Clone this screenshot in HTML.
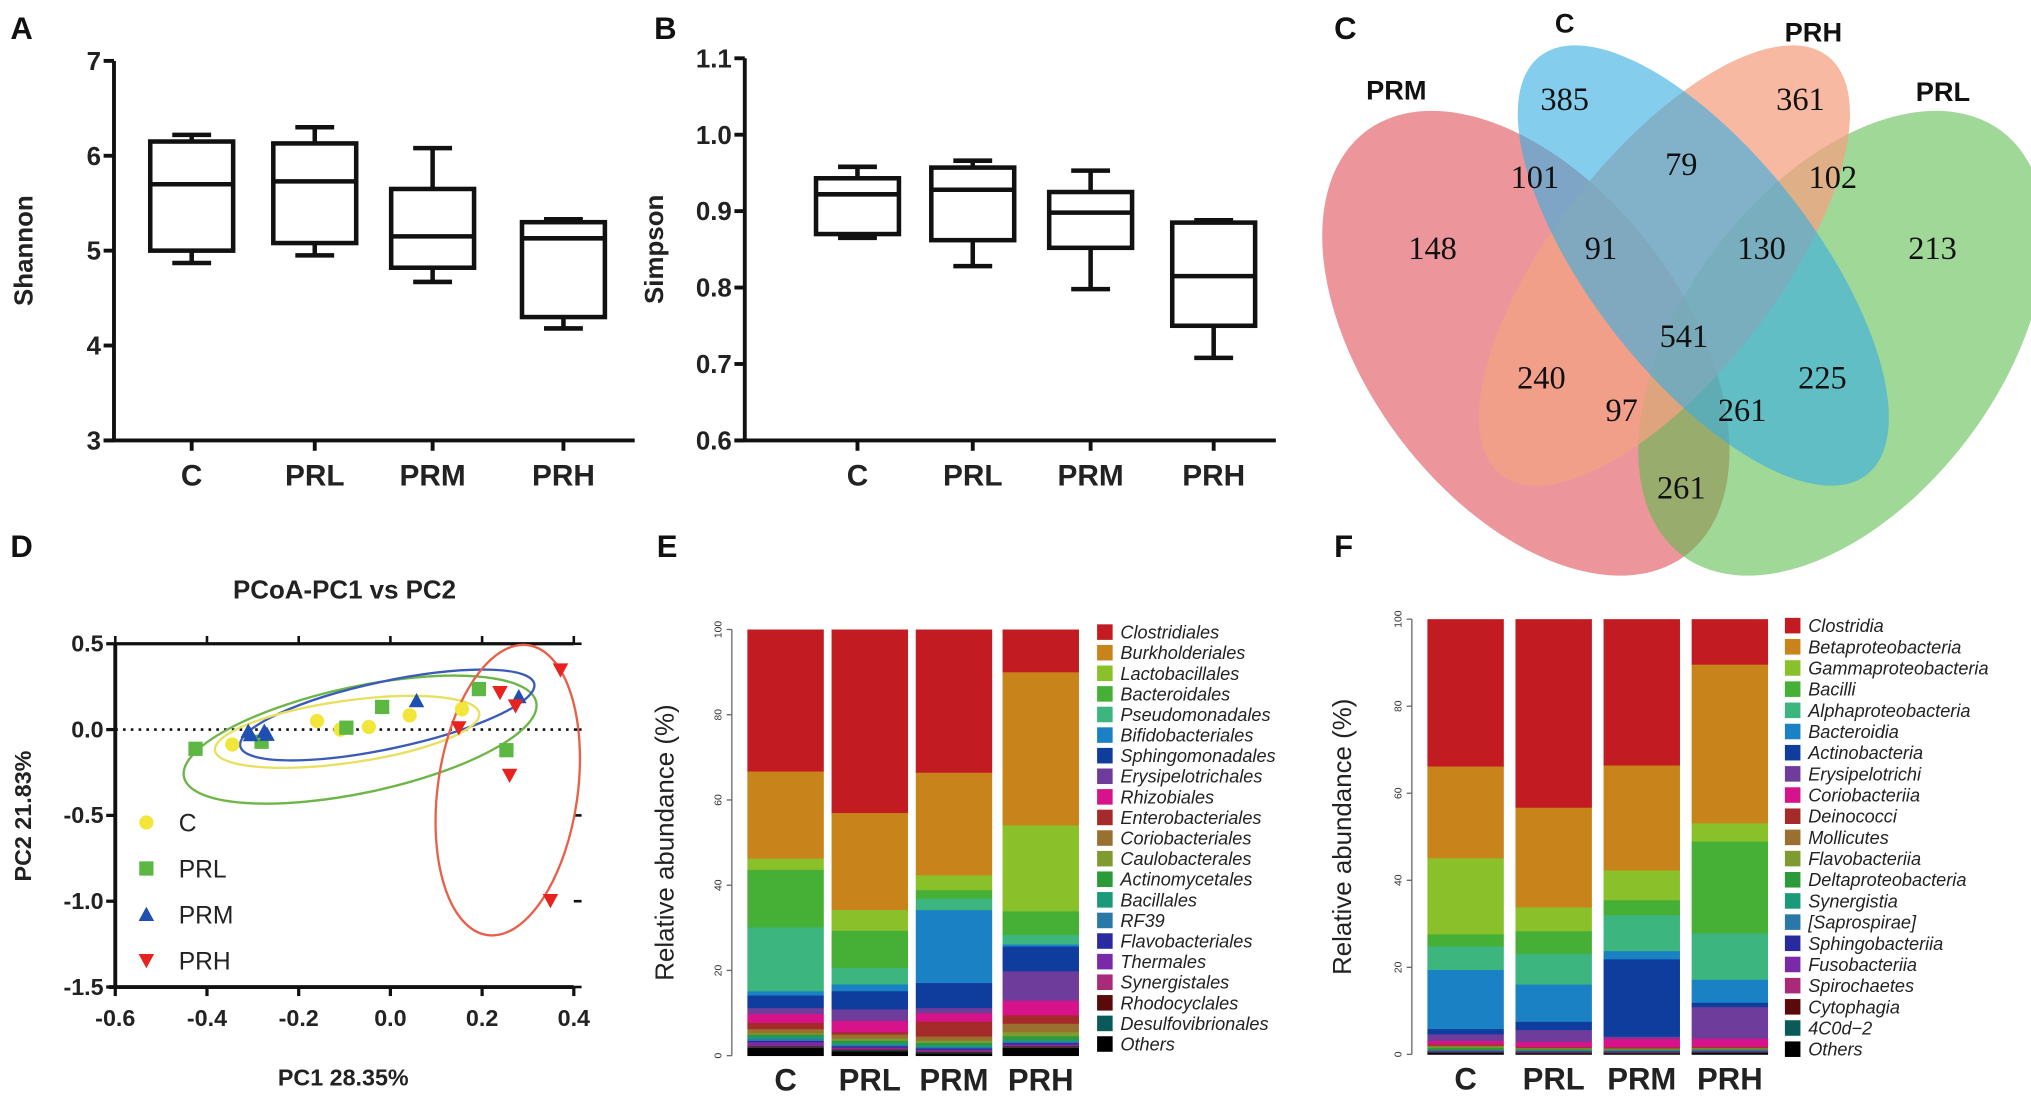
<!DOCTYPE html>
<html><head><meta charset="utf-8"><style>
html,body{margin:0;padding:0;background:#fff;}
svg{display:block;font-family:"Liberation Sans",Arial,sans-serif;}
</style></head><body>
<svg id="fig" width="2031" height="1101" viewBox="0 0 1568 850" preserveAspectRatio="none" xmlns="http://www.w3.org/2000/svg">
<g font-weight="bold" font-size="24" fill="#111">
<text x="8" y="30">A</text>
<text x="505" y="30">B</text>
<text x="1030" y="30">C</text>
<text x="8" y="430">D</text>
<text x="507" y="430">E</text>
<text x="1030" y="430">F</text>
</g>
<g id="pa"></g>
<g id="pb"></g>
<g id="pc"></g>
<g id="pd"></g>
<g id="pe"></g>
<g id="pf"></g>
</svg>
<script>
const groups = ["C","PRL","PRM","PRH"];
// Shannon: [min, q1, median, q3, max]
const shannonStats = [[4.87,5.0,5.7,6.15,6.22],[4.95,5.08,5.73,6.13,6.3],[4.67,4.82,5.15,5.65,6.08],[4.18,4.3,5.13,5.3,5.33]];
const shannonTicks = [3,4,5,6,7];
const simpsonStats = [[0.865,0.87,0.922,0.943,0.958],[0.828,0.862,0.928,0.957,0.966],[0.798,0.852,0.898,0.925,0.953],[0.708,0.75,0.815,0.885,0.888]];
const simpsonTicks = ["0.6","0.7","0.8","0.9","1.0","1.1"];
const vennLabels = ["PRM","C","PRH","PRL"];
const vennCounts = ["385","361","101","79","102","148","91","130","213","541","240","225","97","261","261"];
const pcX_C = [-0.345,-0.16,-0.109,-0.047,0.042,0.156];
const pcY_C = [-0.087,0.05,0.0,0.015,0.083,0.119];
const pcX_PRL = [-0.425,-0.281,-0.096,-0.018,0.193,0.253];
const pcY_PRL = [-0.112,-0.071,0.011,0.132,0.236,-0.12];
const pcX_PRM = [-0.31,-0.305,-0.275,-0.269,0.057,0.28];
const pcY_PRM = [-0.01,-0.03,-0.01,-0.028,0.168,0.191];
const pcX_PRH = [0.149,0.239,0.273,0.26,0.371,0.349];
const pcY_PRH = [0.011,0.216,0.138,-0.266,0.348,-0.996];
const pcXTicks = ["-0.6","-0.4","-0.2","0.0","0.2","0.4"];
const pcYTicks = ["0.5","0.0","-0.5","-1.0","-1.5"];
const orderNames = ["Clostridiales","Burkholderiales","Lactobacillales","Bacteroidales","Pseudomonadales","Bifidobacteriales","Sphingomonadales","Erysipelotrichales","Rhizobiales","Enterobacteriales","Coriobacteriales","Caulobacterales","Actinomycetales","Bacillales","RF39","Flavobacteriales","Thermales","Synergistales","Rhodocyclales","Desulfovibrionales","Others"];
const orderC   = [33.8,20.7,2.7,13.7,15.2,1.0,3.0,1.4,2.1,1.5,1.0,0.3,0.5,0.5,0.5,0.3,0.8,0.2,0.2,0.2,1.8];
const orderPRL = [43.3,22.9,4.9,8.75,3.9,1.6,4.3,2.7,2.7,0.5,1.0,0.5,0.5,0.5,0.3,0.3,0.3,0.2,0.2,0.2,1.0];
const orderPRM = [33.75,24.2,3.5,2.0,2.7,17.2,5.9,1.2,2.0,3.5,1.0,0.5,0.5,0.5,0.3,0.3,0.3,0.2,0.2,0.2,0.5];
const orderPRH = [10.2,36.5,20.5,5.6,2.3,0.5,5.9,7.0,3.5,2.0,2.0,1.0,0.8,0.5,0.3,0.3,0.3,0.2,0.2,0.2,1.8];
const classNames = ["Clostridia","Betaproteobacteria","Gammaproteobacteria","Bacilli","Alphaproteobacteria","Bacteroidia","Actinobacteria","Erysipelotrichi","Coriobacteriia","Deinococci","Mollicutes","Flavobacteriia","Deltaproteobacteria","Synergistia","[Saprospirae]","Sphingobacteriia","Fusobacteriia","Spirochaetes","Cytophagia","4C0d\u22122","Others"];
const classC   = [33.9,21.1,17.5,2.8,5.4,13.6,1.2,1.5,0.8,0.3,0.3,0.2,0.5,0.1,0.1,0.1,0.1,0.1,0.1,0.1,0.3];
const classPRL = [43.5,23.0,5.5,5.2,7.1,8.6,1.9,2.7,1.2,0.2,0.2,0.1,0.3,0.1,0.1,0.1,0.1,0.1,0.1,0.1,0.2];
const classPRM = [33.9,24.3,6.9,3.5,8.3,1.9,17.9,0.5,2.0,0.2,0.2,0.1,0.2,0.1,0.1,0.1,0.1,0.1,0.1,0.1,0.2];
const classPRH = [10.5,36.6,4.2,21.2,10.7,5.3,1.0,7.3,1.9,0.2,0.2,0.1,0.2,0.1,0.1,0.1,0.1,0.1,0.1,0.1,0.3];
const percentTicks = ["0","20","40","60","80","100"];

const palette = ["#c21b22","#c8831a","#8ac12a","#45b035","#3cb57f","#1a82c4","#0f3d9e","#6e3c9a","#d6138a","#a52a2a","#9a7030","#7f9a30","#2a9a3a","#1a9a7a","#2a78a8","#2a2aa0","#7a2aa8","#a82a78","#5a0a0a","#0a5a5a","#000"];
const NS="http://www.w3.org/2000/svg";
function mk(parent, tag, attrs, text){const e=document.createElementNS(NS,tag);for(const k in attrs)e.setAttribute(k,attrs[k]);if(text!==undefined)e.textContent=text;parent.appendChild(e);return e;}

function boxplot(g, stats, ticks, vmin, vmax, axX, yTop, yBot, xEnd, catX, title, tickFmt){
  const y=v=>yBot-(v-vmin)/(vmax-vmin)*(yBot-yTop);
  const a1=mk(g,"line",{x1:axX,y1:yTop,x2:axX,y2:yBot,stroke:"#111","stroke-width":3});
  
  
  const a2=mk(g,"line",{x1:axX-8,y1:yBot,x2:xEnd,y2:yBot,stroke:"#111","stroke-width":3});
  
  
  ticks.forEach(t=>{const v=parseFloat(t);
    mk(g,"line",{x1:axX-8,y1:y(v),x2:axX,y2:y(v),stroke:"#111","stroke-width":3});
    const tl=mk(g,"text",{x:axX-10,y:y(v)+7,"text-anchor":"end","font-size":20,"font-weight":"bold",fill:"#222"},tickFmt(t));
    
    
  });
  stats.forEach((s,i)=>{const cx=catX[i];
    mk(g,"line",{x1:cx,y1:yBot,x2:cx,y2:yBot+8,stroke:"#111","stroke-width":3});
    const cl=mk(g,"text",{x:cx,y:yBot+35,"text-anchor":"middle","font-size":23,"font-weight":"bold",fill:"#222"},groups[i]);
    
    
    const bg=mk(g,"g",{stroke:"#111","stroke-width":3.5,fill:"none"});
    
    
    mk(bg,"line",{x1:cx,y1:y(s[0]),x2:cx,y2:y(s[1])});
    mk(bg,"line",{x1:cx,y1:y(s[3]),x2:cx,y2:y(s[4])});
    mk(bg,"line",{x1:cx-15,y1:y(s[0]),x2:cx+15,y2:y(s[0])});
    mk(bg,"line",{x1:cx-15,y1:y(s[4]),x2:cx+15,y2:y(s[4])});
    mk(bg,"rect",{x:cx-32,y:y(s[3]),width:64,height:y(s[1])-y(s[3])});
    mk(bg,"line",{x1:cx-32,y1:y(s[2]),x2:cx+32,y2:y(s[2])});
  });
  const tt=mk(g,"text",{x:0,y:0,transform:`translate(${axX-63},${(yTop+yBot)/2}) rotate(-90)`,"text-anchor":"middle","font-size":20,"font-weight":"bold",fill:"#222"},title);
  
  
}
boxplot(document.getElementById("pa"),shannonStats,shannonTicks.map(String),3,7,88,47,340,490,[148,243,334,435],"Shannon",t=>t);
boxplot(document.getElementById("pb"),simpsonStats,simpsonTicks,0.6,1.1,575,45,340,985,[662,751,842,937],"Simpson",t=>t);

// Venn
(function(){
  const g=document.getElementById("pc");
  const ells=[
    {cx:1178,cy:265,rx:205,ry:122,rot:53,fill:"#e05560",op:0.62,n:"venn-prm"},
    {cx:1422,cy:265,rx:205,ry:122,rot:-53,fill:"#5cbb4e",op:0.58,n:"venn-prl"},
    {cx:1285,cy:205,rx:205,ry:86,rot:-52,fill:"#f4a283",op:0.75,n:"venn-prh"},
    {cx:1315,cy:205,rx:205,ry:86,rot:52,fill:"#3aaee0",op:0.62,n:"venn-c"}];
  ells.forEach(e=>{const el=mk(g,"ellipse",{cx:e.cx,cy:e.cy,rx:e.rx,ry:e.ry,transform:`rotate(${e.rot} ${e.cx} ${e.cy})`,fill:e.fill,"fill-opacity":e.op});
    
    });
  const lp=[[1078,77],[1208,25],[1400,32],[1500,78]];
  vennLabels.forEach((l,i)=>{const t=mk(g,"text",{x:lp[i][0],y:lp[i][1],"text-anchor":"middle","font-size":21,"font-weight":"bold",fill:"#111"},l);
    
    });
  const cp=[[1208,85],[1390,85],[1185,145],[1298,135],[1415,145],[1106,200],[1236,200],[1360,200],[1492,200],[1300,268],[1190,300],[1407,300],[1252,325],[1345,325],[1298,385]];
  vennCounts.forEach((c,i)=>{const t=mk(g,"text",{x:cp[i][0],y:cp[i][1],"text-anchor":"middle","font-size":25,"font-family":"Liberation Serif,serif",fill:"#111"},c);
    
    });
})();

// PCoA
(function(){
  const g=document.getElementById("pd");
  const X=v=>89+(v+0.6)/1.0*354, Y=v=>497+(0.5-v)/2.0*265;
  const t=mk(g,"text",{x:266,y:462,"text-anchor":"middle","font-size":20,"font-weight":"bold",fill:"#222"},"PCoA-PC1 vs  PC2");
  
  
  mk(g,"line",{x1:89,y1:497,x2:89,y2:762,stroke:"#111","stroke-width":3});
  mk(g,"line",{x1:84,y1:762,x2:443,y2:762,stroke:"#111","stroke-width":3});
  mk(g,"line",{x1:89,y1:497,x2:443,y2:497,stroke:"#111","stroke-width":2.5});
  pcXTicks.forEach(s=>{const v=parseFloat(s);
    mk(g,"line",{x1:X(v),y1:762,x2:X(v),y2:769,stroke:"#111","stroke-width":2.5});
    mk(g,"line",{x1:X(v),y1:497,x2:X(v),y2:491,stroke:"#111","stroke-width":2});
    const l=mk(g,"text",{x:X(v),y:792,"text-anchor":"middle","font-size":18,"font-weight":"bold",fill:"#222"},s);
    
    });
  pcYTicks.forEach(s=>{const v=parseFloat(s);
    mk(g,"line",{x1:82,y1:Y(v),x2:89,y2:Y(v),stroke:"#111","stroke-width":2.5});
    mk(g,"line",{x1:443,y1:Y(v),x2:449,y2:Y(v),stroke:"#111","stroke-width":2});
    const l=mk(g,"text",{x:80,y:Y(v)+6,"text-anchor":"end","font-size":18,"font-weight":"bold",fill:"#222"},s);
    
    });
  mk(g,"line",{x1:89,y1:Y(0),x2:443,y2:Y(0),stroke:"#111","stroke-width":2,"stroke-dasharray":"2,4"});
  const ax=mk(g,"text",{x:265,y:838,"text-anchor":"middle","font-size":18,"font-weight":"bold",fill:"#222"},"PC1 28.35%");
  
  
  const ay=mk(g,"text",{x:0,y:0,transform:"translate(24,630) rotate(-90)","text-anchor":"middle","font-size":18,"font-weight":"bold",fill:"#222"},"PC2 21.83%");
  
  
  [[278,571,139,41,-12,"#6cb548"],[299,552,116,26,-12,"#3a5cb8"],[268,565,103,24,-8,"#e8e060"],[392,610,54,113,8,"#e8604a"]].forEach((e,i)=>{
    const el=mk(g,"ellipse",{cx:e[0],cy:e[1],rx:e[2],ry:e[3],transform:`rotate(${e[4]} ${e[0]} ${e[1]})`,fill:"none",stroke:e[5],"stroke-width":1.8});
    
    });
  const mark=(kind,x,y,c)=>{let el;
    if(kind==0) el=mk(g,"circle",{cx:x,cy:y,r:5.5,fill:c});
    else if(kind==1) el=mk(g,"rect",{x:x-5.5,y:y-5.5,width:11,height:11,fill:c});
    else if(kind==2) el=mk(g,"polygon",{points:`${x},${y-6} ${x-6},${y+5} ${x+6},${y+5}`,fill:c});
    else el=mk(g,"polygon",{points:`${x},${y+6} ${x-6},${y-5} ${x+6},${y-5}`,fill:c});
    return el;};
  const sets=[[pcX_C,pcY_C,"#f2e63a"],[pcX_PRL,pcY_PRL,"#5cb843"],[pcX_PRM,pcY_PRM,"#1f4fb0"],[pcX_PRH,pcY_PRH,"#e8221e"]];
  sets.forEach((s,k)=>{s[0].forEach((xv,i)=>{const p=mark(k,X(xv),Y(s[1][i]),s[2]);
    
    });
    const ly=635+k*35.5;
    const lm=mark(k,113,ly,s[2]);
    
    
    const lt=mk(g,"text",{x:138,y:ly+7,"font-size":19,fill:"#222"},groups[k]);
    
    });
})();

function stacked(g, series, names, axX, yTop, yBot, barX, barW, legX, legY0, legStep, titleX){
  const Y=p=>yBot-p/100*(yBot-yTop);
  mk(g,"line",{x1:axX,y1:yTop,x2:axX,y2:yBot,stroke:"#666","stroke-width":1});
  percentTicks.forEach(s=>{const v=parseFloat(s);
    mk(g,"line",{x1:axX-4,y1:Y(v),x2:axX,y2:Y(v),stroke:"#666","stroke-width":1});
    const l=mk(g,"text",{x:0,y:0,transform:`translate(${axX-8},${Y(v)}) rotate(-90)`,"text-anchor":"middle","font-size":8,fill:"#333"},s);
    
    });
  const tt=mk(g,"text",{x:0,y:0,transform:`translate(${titleX},${(yTop+yBot)/2}) rotate(-90)`,"text-anchor":"middle","font-size":20,fill:"#222"},"Relative abundance (%)");
  
  
  series.forEach((vals,i)=>{const tot=vals.reduce((a,b)=>a+b,0);let cum=100;
    vals.forEach((v,j)=>{const h=v/tot*100;const top=cum;cum-=h;
      const r=mk(g,"rect",{x:barX[i],y:Y(top),width:barW,height:Y(cum)-Y(top)+0.3,fill:palette[j]});
      
      });
    const cl=mk(g,"text",{x:barX[i]+barW/2,y:yBot+27,"text-anchor":"middle","font-size":24,"font-weight":"bold",fill:"#222"},groups[i]);
    
    });
  names.forEach((n,j)=>{const y=legY0+j*legStep;
    const s=mk(g,"rect",{x:legX,y:y-6,width:12,height:12,fill:palette[j]});
    
    
    const t=mk(g,"text",{x:legX+18,y:y+5,"font-size":14,"font-style":"italic",fill:"#222"},n);
    
    });
}
stacked(document.getElementById("pe"),[orderC,orderPRL,orderPRM,orderPRH],orderNames,565,486,815,[577,642,707,774],59,847,488,15.9,520);
stacked(document.getElementById("pf"),[classC,classPRL,classPRM,classPRH],classNames,1090,478,814,[1102,1170,1238,1306],59,1378,483,16.35,1043);
</script>
</body></html>
